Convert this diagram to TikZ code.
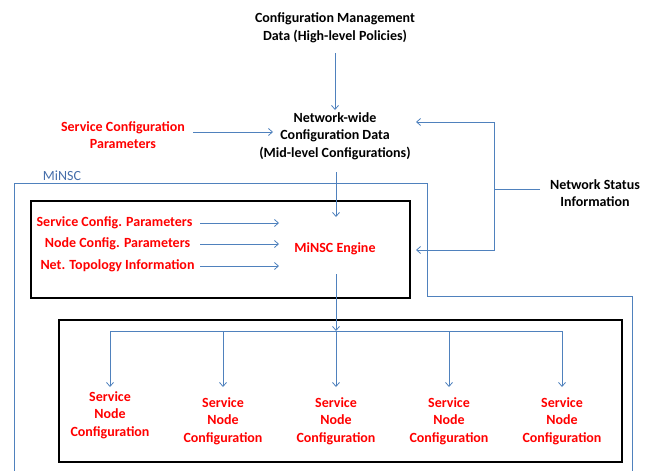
\documentclass[tikz,border=0pt]{standalone}
\usepackage{fontspec}
\setmainfont{Carlito}
\usetikzlibrary{arrows.meta}
\definecolor{lineblue}{RGB}{79,129,189}
\definecolor{labelblue}{RGB}{70,110,170}
\begin{document}
\begin{tikzpicture}[x=1pt,y=-1pt,
  lbl/.style={font=\bfseries\fontsize{14}{17.5}\selectfont, align=center, inner sep=0pt},
  redlbl/.style={lbl, text=red},
  arr/.style={draw=lineblue, line width=0.8pt, -{Straight Barb[length=4pt,width=7pt]}},
  ln/.style={draw=lineblue, line width=0.8pt},
  bbox/.style={draw=black, line width=2pt, inner sep=0pt, anchor=north west}]
\useasboundingbox (0,0) rectangle (656,471);

% MiNSC outline
\draw[ln] (14,471) -- (14,183) -- (427,183) -- (427,296) -- (632,296) -- (632,471);
\node[font=\fontsize{14}{16}\selectfont, text=labelblue, inner sep=0pt] (minsc) at (62,176) {MiNSC};

% boxes
\node[bbox, minimum width=379, minimum height=97] (ebox) at (30,200) {};
\node[bbox, minimum width=563, minimum height=142] (nbox) at (58,319) {};

% top texts
\node[lbl] (cmd) at (335,28) {Configuration Management\\Data (High-level Policies)};
\node[lbl] (nwc) at (335,136) {Network-wide\\Configuration Data\\(Mid-level Configurations)};
\node[redlbl] (scp) at (123,135) {Service Configuration\\Parameters};
\node[lbl] (nsi) at (595,193) {Network Status\\Information};

% engine
\node[redlbl] (eng) at (335,249) {MiNSC Engine};
\node[redlbl] (l1) at (114.5,223) {Service Config. Parameters};
\node[redlbl] (l2) at (117.5,244) {Node Config. Parameters};
\node[redlbl] (l3) at (117.5,266) {Net. Topology Information};

% bottom labels
\node[redlbl] (n1) at (110,415) {Service\\Node\\Configuration};
\node[redlbl] (n2) at (223,421) {Service\\Node\\Configuration};
\node[redlbl] (n3) at (336,421) {Service\\Node\\Configuration};
\node[redlbl] (n4) at (449,421) {Service\\Node\\Configuration};
\node[redlbl] (n5) at (562,421) {Service\\Node\\Configuration};

% coordinates
\coordinate (a1) at (335,53);
\coordinate (a2) at (335,110);
\coordinate (s1) at (193,132);
\coordinate (s2) at (273,132);
\coordinate (e1) at (336,172);
\coordinate (e2) at (336,217);
\coordinate (e3) at (336,274);
\coordinate (bus) at (336,331);
\coordinate (tipy) at (0,387);
\coordinate (jn) at (494,189);
\coordinate (nsl) at (540,189);
\coordinate (t1) at (416,122);
\coordinate (t2) at (416,250);
\coordinate (lx) at (200,0);
\coordinate (rx) at (279,0);

% connectors
\draw[arr] (a1) -- (a2);
\draw[arr] (s1) -- (s2);
\draw[arr] (e1) -- (e2);
\draw[ln] (nsl) -- (jn);
\draw[arr] (jn) |- (t1);
\draw[arr] (jn) |- (t2);
\draw[arr] (lx|-l1) -- (rx|-l1);
\draw[arr] (lx|-l2) -- (rx|-l2);
\draw[arr] (lx|-l3) -- (rx|-l3);
\draw[arr] (e3) -- (bus);
\draw[ln] (n1|-bus) -- (n5|-bus);
\foreach \n in {n1,n2,n3,n4,n5} \draw[arr] (\n|-bus) -- (\n|-tipy);
\end{tikzpicture}
\end{document}
